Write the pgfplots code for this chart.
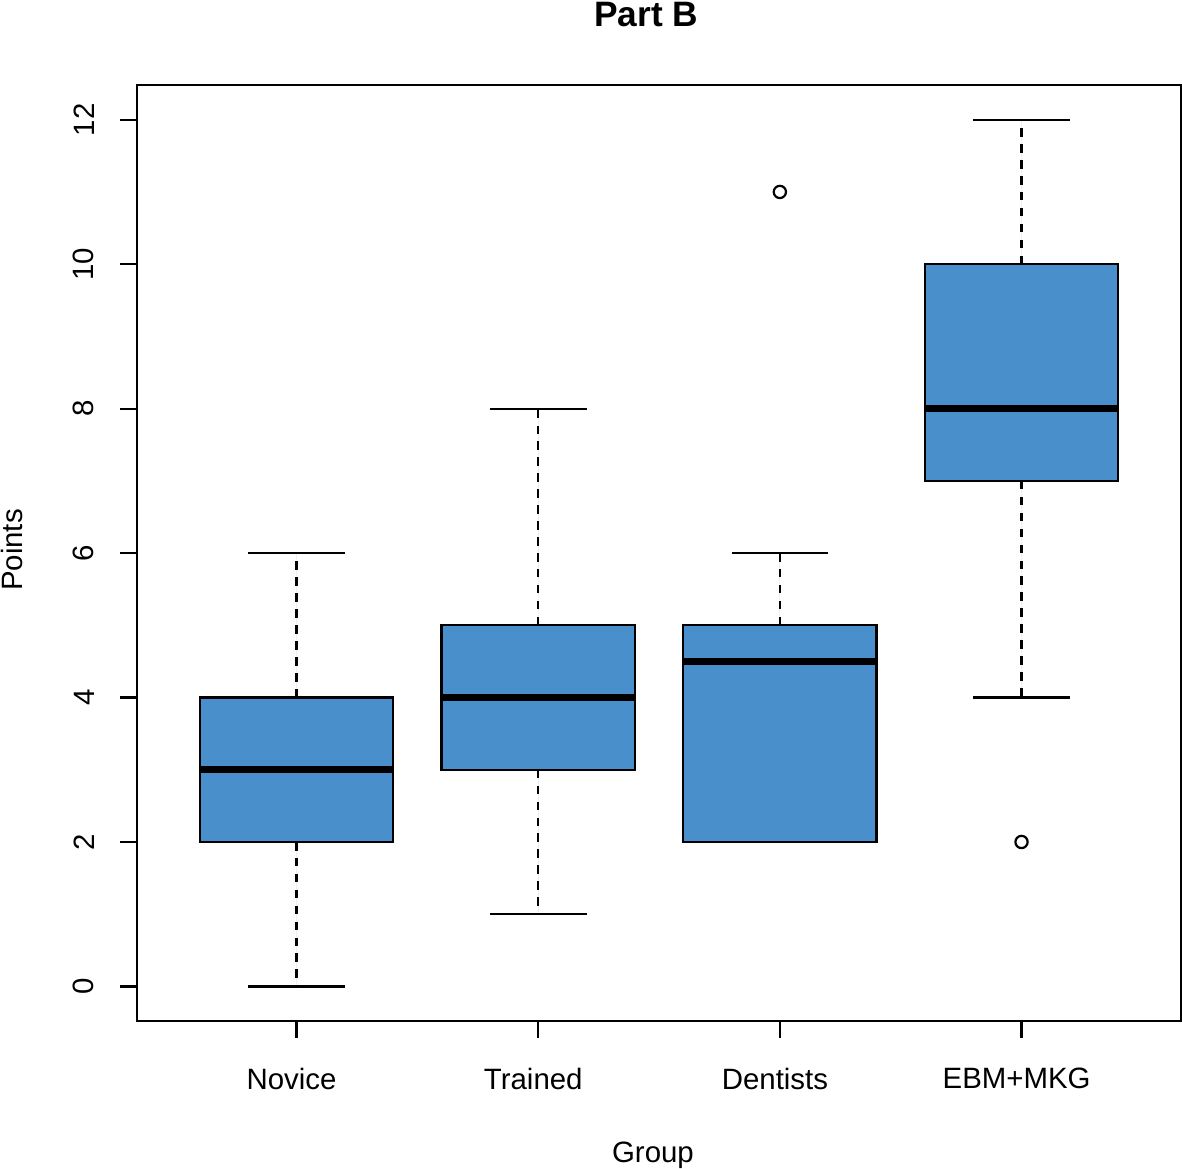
\documentclass[border=0pt]{standalone}
\usepackage{pgfplots}
\pgfplotsset{compat=1.18}
\usepgfplotslibrary{statistics}
\usetikzlibrary{calc}
\usepackage{fontspec}
\setmainfont{Liberation Sans}
\definecolor{boxblue}{RGB}{72,143,203}
% 1 px of the reference = 0.408pt
\newcommand{\rfont}{\fontsize{12}{14}\selectfont}
\begin{document}
\begin{tikzpicture}
\begin{axis}[
    scale only axis,
    width=425.95pt,
    height=381.9pt,
    xmin=0.34, xmax=4.66,
    ymin=-0.48, ymax=12.48,
    axis line style={line width=0.9pt},
    xtick={1,2,3,4},
    xticklabels={Novice,Trained,Dentists,EBM+MKG},
    ytick={0,2,4,6,8,10,12},
    xtick pos=lower, ytick pos=left,
    tick align=outside,
    major tick length=7pt,
    tick style={line width=0.9pt, black},
    /pgf/number format/assume math mode=true,
    tick label style={font=\rfont},
    xticklabel style={xshift=-2pt, yshift=-8.7pt},
    yticklabel style={rotate=90, anchor=south, yshift=7pt},
    boxplot/draw direction=y,
    boxplot/box extend=0.8,
    boxplot/whisker extend=0.4,
    boxplot/every median/.style={line width=2.9pt},
    boxplot/draw/lower whisker/.code={
        \draw[dash pattern=on 3.5pt off 3pt, line width=0.9pt]
            (boxplot cs:\pgfplotsboxplotvalue{lower quartile}) --
            (boxplot cs:\pgfplotsboxplotvalue{lower whisker});
        \draw[line width=0.9pt]
            (boxplot whisker cs:\pgfplotsboxplotvalue{lower whisker},0) --
            (boxplot whisker cs:\pgfplotsboxplotvalue{lower whisker},1);
    },
    boxplot/draw/upper whisker/.code={
        \draw[dash pattern=on 3.5pt off 3pt, line width=0.9pt]
            (boxplot cs:\pgfplotsboxplotvalue{upper quartile}) --
            (boxplot cs:\pgfplotsboxplotvalue{upper whisker});
        \draw[line width=0.9pt]
            (boxplot whisker cs:\pgfplotsboxplotvalue{upper whisker},0) --
            (boxplot whisker cs:\pgfplotsboxplotvalue{upper whisker},1);
    },
    every axis plot/.append style={draw=black, fill=boxblue, line width=0.9pt,
        mark=o, mark size=2.5pt, mark options={fill=none, draw=black, solid, line width=0.9pt}},
]
% Novice
\addplot[boxplot prepared={lower whisker=0, lower quartile=2, median=3,
    upper quartile=4, upper whisker=6, draw position=1}]
    coordinates {};
% Trained
\addplot[boxplot prepared={lower whisker=1, lower quartile=3, median=4,
    upper quartile=5, upper whisker=8, draw position=2}]
    coordinates {};
% Dentists
\addplot[boxplot prepared={lower whisker=2, lower quartile=2, median=4.5,
    upper quartile=5, upper whisker=6, draw position=3}]
    coordinates {(0,11)};
% EBM+MKG
\addplot[boxplot prepared={lower whisker=4, lower quartile=7, median=8,
    upper quartile=10, upper whisker=12, draw position=4}]
    coordinates {(0,2)};
\end{axis}
% titles, placed in reference pixels (1 px = 0.408pt) from the axis box corner
\node[font=\fontsize{14.4}{17}\selectfont\bfseries]
    at ($(current axis.north west)+(207.7pt,28.6pt)$) {Part B};
\node[font=\rfont]
    at ($(current axis.south west)+(210.5pt,-54.6pt)$) {Group};
\node[font=\rfont, rotate=90]
    at ($(current axis.south west)+(-51pt,192.2pt)$) {Points};
\pgfresetboundingbox
\useasboundingbox ($(current axis.south west)+(-55.9pt,-60pt)$) rectangle ($(current axis.north east)+(0.4pt,34.7pt)$);
\end{tikzpicture}
\end{document}
